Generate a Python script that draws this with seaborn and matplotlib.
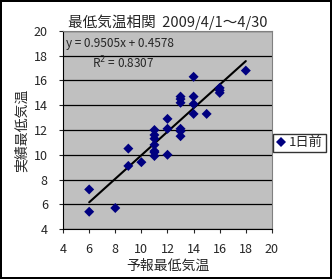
import numpy as np
import pandas as pd
import seaborn as sns
from matplotlib import pyplot as plt

# forecast (x) vs observed (y) minimum temperature, April 2009
forecast = [6, 6, 8, 9, 9, 10,
            11, 11, 11, 11, 11, 11, 11,
            12, 12, 12,
            13, 13, 13, 13, 13, 13,
            14, 14, 14, 14, 15,
            16, 16, 16, 18]
observed = [7.2, 5.4, 5.7, 10.5, 9.1, 9.4,
            12.0, 11.6, 11.3, 10.8, 10.3, 10.2, 9.9,
            12.9, 12.1, 10.0,
            14.7, 14.5, 14.2, 12.1, 11.9, 11.5,
            16.3, 14.7, 14.1, 13.3, 13.3,
            15.4, 15.2, 15.0, 16.8]
slope, intercept, r2 = 0.9505, 0.4578, 0.8307

df = pd.DataFrame({"予報最低気温": forecast, "実績最低気温": observed,
                   "series": ["1日前"] * len(forecast)})

sns.set_style("white")
plt.rcParams["font.family"] = ["Noto Sans CJK JP", "DejaVu Sans"]

fig = plt.figure(figsize=(3.32, 2.79), dpi=100)
fig.patch.set_edgecolor("black")
fig.patch.set_linewidth(1.5)
ax = fig.add_axes([0.19, 0.179, 0.629, 0.71])
ax.set_facecolor("#C0C0C0")

sns.scatterplot(data=df, x="予報最低気温", y="実績最低気温", hue="series",
                palette=["#000080"], marker="D", s=26, edgecolor="#000080",
                linewidth=0, ax=ax, zorder=3)

# linear trend line
xs = np.array([min(forecast), max(forecast)])
ax.plot(xs, slope * xs + intercept, color="black", lw=1.5, zorder=2)

ax.set_xlim(4, 20)
ax.set_ylim(4, 20)
ax.set_xticks(range(4, 21, 2))
ax.set_yticks(range(4, 21, 2))
ax.yaxis.grid(True, color="black", lw=0.9)
ax.set_axisbelow(True)
for side in ["top", "right"]:
    ax.spines[side].set_color("#808080")
for side in ["left", "bottom"]:
    ax.spines[side].set_color("black")
ax.tick_params(labelsize=9, length=3, direction="out", bottom=True, left=True)
ax.tick_params(axis="x", pad=7)
ax.tick_params(axis="y", pad=8)

ax.set_xlabel("予報最低気温", fontsize=10, labelpad=2)
ax.set_ylabel("実績最低気温", fontsize=10, labelpad=4)
ax.set_title("最低気温相関  2009/4/1～4/30", fontsize=10.5, pad=3)

ax.text(4.25, 18.95, f"y = {slope}x + {intercept}", fontsize=8.5, va="center")
ax.text(6.2, 17.45, f"R$^2$ = {r2}", fontsize=8.5, va="center")

ax.legend(loc="center left", bbox_to_anchor=(1.0, 0.435), frameon=True,
          fancybox=False, edgecolor="black", fontsize=9.5, handletextpad=0.2,
          borderpad=0.2, handlelength=0.8, borderaxespad=0.1)

fig.savefig("out.png", dpi=100)
